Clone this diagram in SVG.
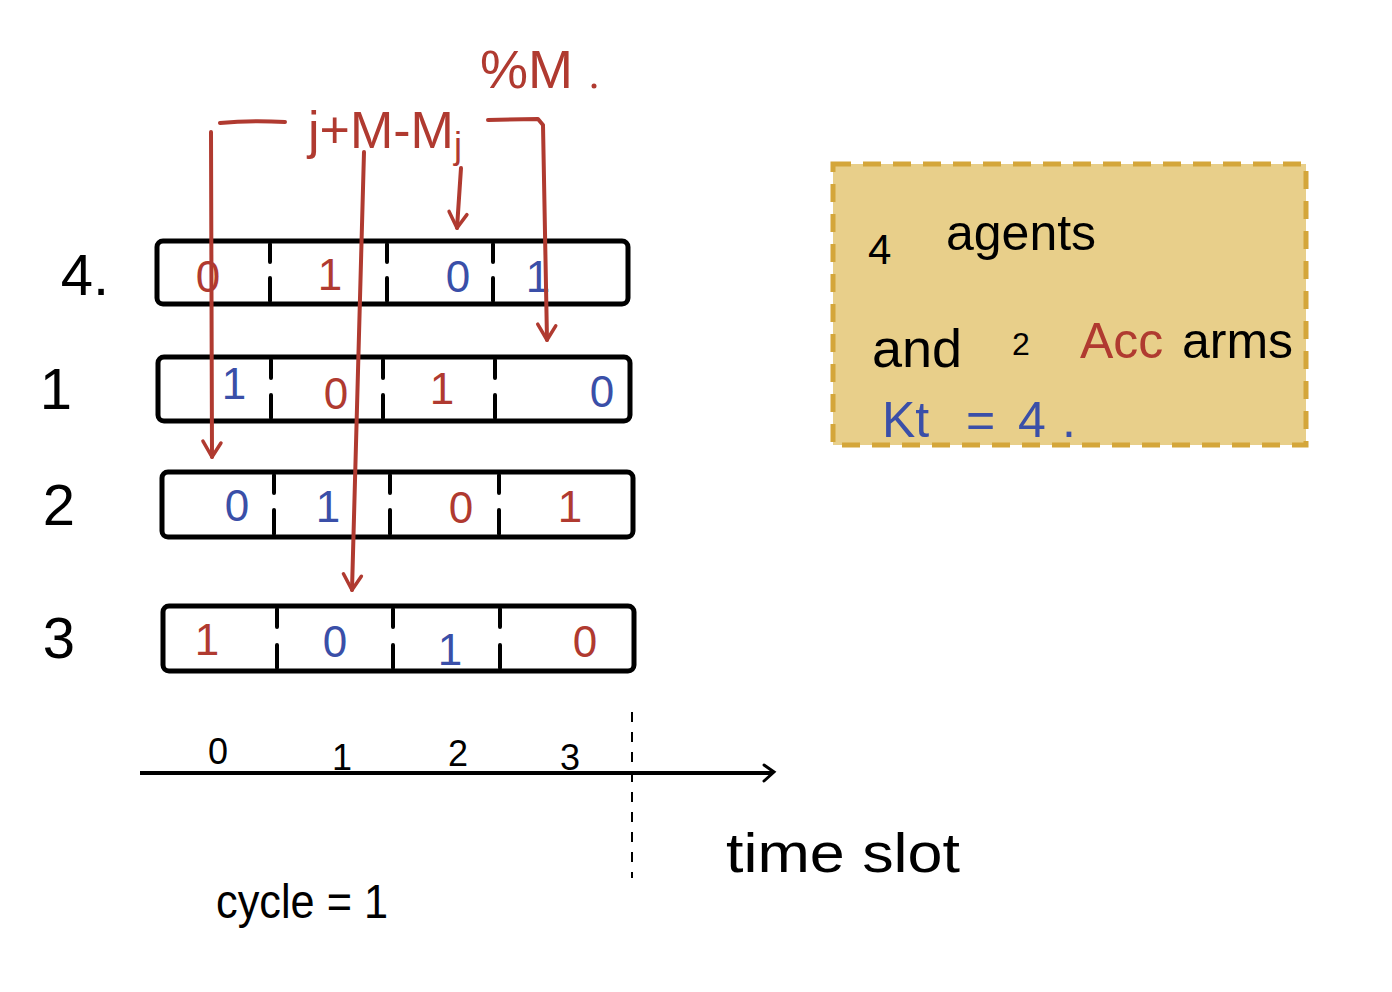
<svg xmlns="http://www.w3.org/2000/svg" width="1392" height="992" viewBox="0 0 1392 992">
<style>
.row{fill:#fff;stroke:#000;stroke-width:5}
.div{stroke:#000;stroke-width:4;stroke-linecap:round}
.t{font-family:"Liberation Sans",Arial,sans-serif}
.r{fill:#B03A30}
.b{fill:#3A4FA8}
.k{fill:#000}
.cell{font-size:44px;text-anchor:middle}
.lbl{font-size:58px;text-anchor:middle}
.conn{fill:none;stroke:#B03A30;stroke-width:4;stroke-linecap:round;stroke-linejoin:round}
</style>
<defs>
<marker id="ah" viewBox="0 0 24 24" refX="20" refY="12" markerWidth="24" markerHeight="24" markerUnits="userSpaceOnUse" orient="auto">
<path d="M6 3 L20 12 L4 21" fill="none" stroke="#B03A30" stroke-width="3.5" stroke-linecap="round" stroke-linejoin="round"/>
</marker>
</defs>
<rect width="1392" height="992" fill="#fff"/>

<g id="row-labels" class="t k">
<text class="lbl" x="85" y="295">4.</text>
<text class="lbl" x="56" y="409">1</text>
<text class="lbl" x="59" y="525">2</text>
<text class="lbl" x="59" y="658">3</text>
</g>

<g id="row4">
<rect class="row" x="157" y="241" width="471" height="63" rx="6"/>
<path class="div" d="M270 244V262M270 278V301M387 244V262M387 278V301M493 244V262M493 278V301"/>
<g class="t cell"><text class="r" x="208" y="292">0</text><text class="r" x="330" y="290">1</text><text class="b" x="458" y="292">0</text><text class="b" x="538" y="292">1</text></g>
</g>

<g id="row1">
<rect class="row" x="158" y="357" width="472" height="64" rx="6"/>
<path class="div" d="M271 360V378M271 395V418M383 360V378M383 395V418M495 360V378M495 395V418"/>
<g class="t cell"><text class="b" x="234" y="399">1</text><text class="r" x="336" y="409">0</text><text class="r" x="442" y="404">1</text><text class="b" x="602" y="407">0</text></g>
</g>

<g id="row2">
<rect class="row" x="162" y="472" width="471" height="65" rx="6"/>
<path class="div" d="M274 475V493M274 510V534M390 475V493M390 510V534M499 475V493M499 510V534"/>
<g class="t cell"><text class="b" x="237" y="521">0</text><text class="b" x="328" y="522">1</text><text class="r" x="461" y="523">0</text><text class="r" x="570" y="522">1</text></g>
</g>

<g id="row3">
<rect class="row" x="163" y="606" width="471" height="65" rx="6"/>
<path class="div" d="M277 609V627M277 645V668M393 609V627M393 645V668M500 609V627M500 645V668"/>
<g class="t cell"><text class="r" x="207" y="655">1</text><text class="b" x="335" y="657">0</text><text class="b" x="450" y="665">1</text><text class="r" x="585" y="657">0</text></g>
</g>

<g id="formula" class="t r">
<text x="308" y="148" font-size="52">j+M-M<tspan font-size="36" dy="10">j</tspan></text>
<text x="480" y="88" font-size="54">%M</text>
<circle cx="594" cy="86" r="2.5" fill="#B03A30"/>
</g>

<g id="connectors">
<path class="conn" d="M220 123 Q250 120 285 122"/>
<path class="conn" d="M211 132 L212 457" marker-end="url(#ah)"/>
<path class="conn" d="M364 152 L352 590" marker-end="url(#ah)"/>
<path class="conn" d="M461 168 L457 228" marker-end="url(#ah)"/>
<path class="conn" d="M488 120 L538 119 L543 125 L547 340" marker-end="url(#ah)"/>
</g>

<g id="info-box">
<rect x="833" y="164" width="473" height="281" fill="#E8CF8A" stroke="#D4A63A" stroke-width="5" stroke-dasharray="18 12"/>
<g class="t" font-size="50">
<text x="868" y="264" class="k" font-size="42">4</text>
<text x="946" y="250" class="k">agents</text>
<text x="872" y="367" class="k" font-size="54">and</text>
<text x="1012" y="355" class="k" font-size="32">2</text>
<text x="1080" y="358" class="r">Acc</text>
<text x="1182" y="358" class="k">arms</text>
<text x="882" y="437" class="b">Kt</text>
<text x="966" y="437" class="b">=</text>
<text x="1018" y="437" class="b">4</text>
<text x="1062" y="437" class="b">.</text>
</g>
</g>

<g id="axis">
<path d="M140 773 H772" stroke="#000" stroke-width="4" fill="none"/>
<path d="M764 765 L774 772 L764 781" stroke="#000" stroke-width="3" fill="none" stroke-linecap="round"/>
<path d="M632 712 V878" stroke="#000" stroke-width="2" stroke-dasharray="10 10" fill="none"/>
<g class="t k" font-size="36" text-anchor="middle">
<text x="218" y="764">0</text>
<text x="342" y="770">1</text>
<text x="458" y="766">2</text>
<text x="570" y="770">3</text>
</g>
<text class="t k" x="726" y="872" font-size="56" textLength="234" lengthAdjust="spacingAndGlyphs">time slot</text>
<text class="t k" x="216" y="918" font-size="48" textLength="172" lengthAdjust="spacingAndGlyphs">cycle = 1</text>
</g>
</svg>
